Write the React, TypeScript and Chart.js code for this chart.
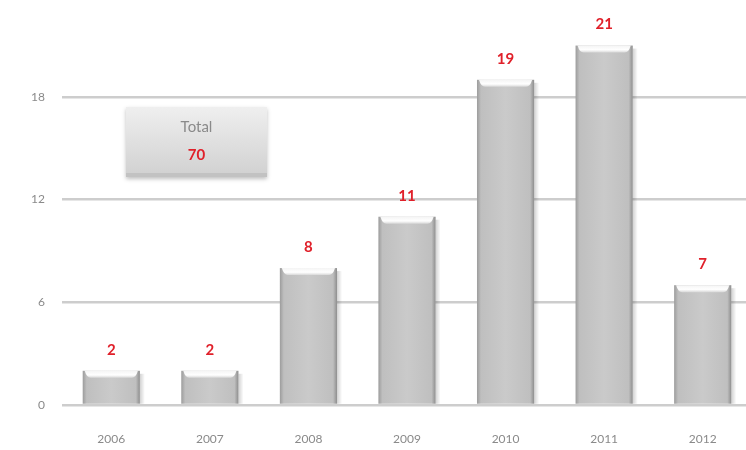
import React, { useEffect, useRef } from "react";
import { Chart, registerables } from "chart.js";

Chart.register(...registerables);

const categories = ["2006", "2007", "2008", "2009", "2010", "2011", "2012"];
const values = [2, 2, 8, 11, 19, 21, 7];
const yMin = 0;
const yMax = 24;
const yStep = 6;
const totalLabel = "Total";
const totalValue = values.reduce((a, b) => a + b, 0);

const FONT = "Lato, 'Open Sans', 'DejaVu Sans', sans-serif";

const barDecor = {
  id: "barDecor",
  afterDatasetsDraw(chart: any) {
    const ctx = chart.ctx as CanvasRenderingContext2D;
    const meta = chart.getDatasetMeta(0);
    meta.data.forEach((el: any, i: number) => {
      const { x, y, base, width } = el.getProps(["x", "y", "base", "width"], true);
      const left = x - width / 2;
      const right = x + width / 2;
      const h = base - y;
      ctx.save();
      const sh = ctx.createLinearGradient(right, 0, right + 5, 0);
      sh.addColorStop(0, "rgba(0,0,0,0.18)");
      sh.addColorStop(1, "rgba(0,0,0,0)");
      ctx.fillStyle = sh;
      ctx.fillRect(right, y + 3, 5, h - 3);
      const g = ctx.createLinearGradient(left, 0, right, 0);
      g.addColorStop(0, "#9c9c9c");
      g.addColorStop(0.07, "#bfbfbf");
      g.addColorStop(0.5, "#cacaca");
      g.addColorStop(0.93, "#bfbfbf");
      g.addColorStop(1, "#8e8e8e");
      ctx.fillStyle = g;
      ctx.fillRect(left, y, width, h);
      const capH = Math.min(7, h);
      const cg = ctx.createLinearGradient(0, y, 0, y + capH);
      cg.addColorStop(0, "#f4f4f4");
      cg.addColorStop(0.6, "#ffffff");
      cg.addColorStop(1, "#d8d8d8");
      ctx.fillStyle = cg;
      ctx.beginPath();
      ctx.moveTo(left + 2, y);
      ctx.lineTo(right - 2, y);
      ctx.quadraticCurveTo(right - 4, y + capH, right - 8, y + capH);
      ctx.lineTo(left + 8, y + capH);
      ctx.quadraticCurveTo(left + 4, y + capH, left + 2, y);
      ctx.closePath();
      ctx.fill();
      ctx.fillStyle = "#e0202a";
      ctx.font = `bold 15px ${FONT}`;
      ctx.textAlign = "center";
      ctx.textBaseline = "middle";
      ctx.fillText(String(values[i]), x, y - 21);
      ctx.restore();
    });
  },
};

export default function App() {
  const ref = useRef<HTMLCanvasElement | null>(null);

  useEffect(() => {
    if (!ref.current) return;
    const chart = new Chart(ref.current, {
      type: "bar",
      data: {
        labels: categories,
        datasets: [
          {
            data: values,
            backgroundColor: "rgba(0,0,0,0)",
            borderWidth: 0,
            barPercentage: 0.58,
            categoryPercentage: 1,
          },
        ],
      },
      options: {
        animation: false,
        responsive: false,
        devicePixelRatio: 1,
        layout: { padding: { top: 3, right: 8, left: 0, bottom: 0 } },
        plugins: { legend: { display: false }, tooltip: { enabled: false } },
        scales: {
          x: {
            grid: { display: false },
            border: { display: false },
            ticks: {
              color: "#8a8a8a",
              font: { family: FONT, size: 12 },
              padding: 19,
            },
            afterFit(scale: any) {
              scale.height = 45;
            },
          },
          y: {
            min: yMin,
            max: yMax,
            grid: { color: "#cdcdcd", lineWidth: 2.5, drawTicks: false },
            border: { display: false },
            ticks: {
              stepSize: yStep,
              color: "#8a8a8a",
              font: { family: FONT, size: 12 },
              padding: 17,
            },
            afterFit(scale: any) {
              scale.width = 62;
            },
          },
        },
      },
      plugins: [barDecor],
    });
    return () => chart.destroy();
  }, []);

  return (
    <div
      style={{
        position: "fixed",
        left: 0,
        top: 0,
        width: 746,
        height: 450,
        overflow: "hidden",
        background: "#ffffff",
      }}
    >
      <canvas
        ref={ref}
        width={760}
        height={480}
        style={{ position: "absolute", left: 0, top: -30, width: 760, height: 480 }}
      />
      <div
        style={{
          position: "absolute",
          left: 126,
          top: 107,
          width: 141,
          height: 66,
          background: "linear-gradient(#efefef, #d2d2d2)",
          borderBottom: "4px solid #c2c2c2",
          boxShadow: "0 2px 4px rgba(0,0,0,0.25)",
          fontFamily: FONT,
          textAlign: "center",
        }}
      >
        <div style={{ color: "#8a8a8a", fontSize: 15, marginTop: 10, lineHeight: "18px" }}>
          {totalLabel}
        </div>
        <div
          style={{
            color: "#e0202a",
            fontSize: 15,
            fontWeight: "bold",
            marginTop: 10,
            lineHeight: "18px",
          }}
        >
          {totalValue}
        </div>
      </div>
    </div>
  );
}
